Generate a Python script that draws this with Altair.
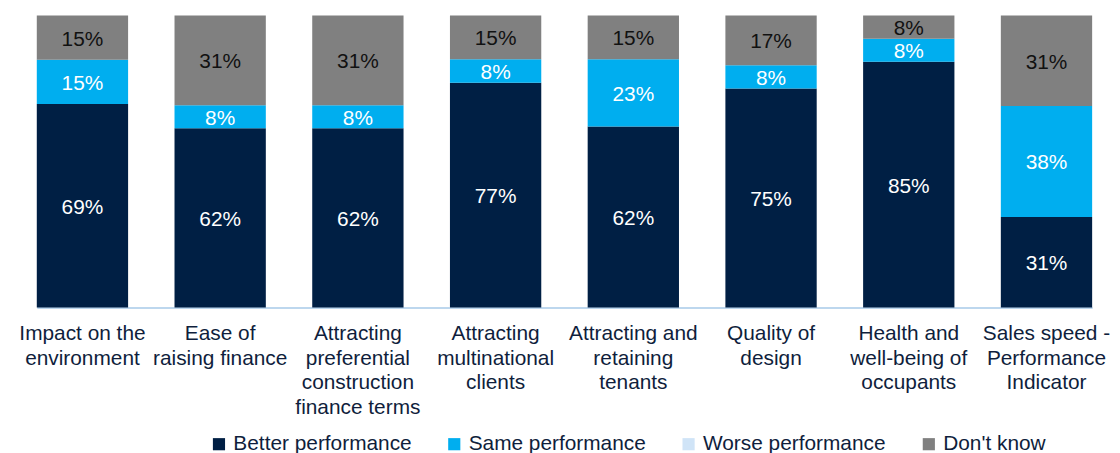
import altair as alt
import pandas as pd

categories = [
    "Impact on the|environment",
    "Ease of|raising finance",
    "Attracting|preferential|construction|finance terms",
    "Attracting|multinational|clients",
    "Attracting and|retaining|tenants",
    "Quality of|design",
    "Health and|well-being of|occupants",
    "Sales speed -|Performance|Indicator",
]
series = ["Better performance", "Same performance", "Worse performance", "Don't know"]
better = [69, 62, 62, 77, 62, 75, 85, 31]
same = [15, 8, 8, 8, 23, 8, 8, 38]
worse = [0, 0, 0, 0, 0, 0, 0, 0]
dontknow = [15, 31, 31, 15, 15, 17, 8, 31]
colors = ["#001F44", "#00AEEF", "#D0E4F7", "#808080"]

FONT = "Liberation Sans"
TEXT_COLOR = "#0F1E3C"

rows = []
for s_idx, (name, vals) in enumerate(zip(series, [better, same, worse, dontknow])):
    for c, v in zip(categories, vals):
        rows.append({"cat": c, "series": name, "value": v, "order": s_idx})
df = pd.DataFrame(rows)

base = (
    alt.Chart(df)
    .transform_stack(
        stack="value",
        groupby=["cat"],
        sort=[alt.SortField("order", order="ascending")],
        offset="normalize",
        as_=["v0", "v1"],
    )
    .transform_calculate(mid="(datum.v0 + datum.v1) / 2", lbl="datum.value + '%'")
)

xscale = alt.Scale(paddingInner=0.337, paddingOuter=0, range=[23, 1086], round=False)
xaxis = alt.Axis(
    title=None,
    labelExpr="split(datum.label, '|')",
    labelAngle=0,
    labelFont=FONT,
    labelFontSize=21,
    labelColor=TEXT_COLOR,
    labelLineHeight=25,
    labelPadding=15,
    labelLimit=400,
    labelOverlap=False,
    labelBound=False,
    ticks=False,
    tickSize=0,
    domainColor="#BDD7EE",
    domainWidth=2,
    grid=False,
)

bars = base.mark_bar().encode(
    x=alt.X("cat:N", sort=categories, scale=xscale, axis=xaxis),
    y=alt.Y("v0:Q", scale=alt.Scale(domain=[0, 1]), axis=None),
    y2="v1:Q",
    color=alt.Color(
        "series:N",
        sort=series,
        scale=alt.Scale(domain=series, range=colors),
        legend=alt.Legend(
            title=None,
            orient="none",
            legendX=196,
            legendY=421,
            direction="horizontal",
            symbolType="square",
            symbolSize=150,
            symbolStrokeWidth=0,
            labelFont=FONT,
            labelFontSize=21,
            labelColor=TEXT_COLOR,
            labelOffset=4,
            labelLimit=400,
            columnPadding=32,
            padding=0,
        ),
    ),
)

labels = base.transform_filter("datum.value > 0").mark_text(
    font=FONT, fontSize=21, baseline="middle", align="center", dy=2
).encode(
    x=alt.X("cat:N", sort=categories, scale=xscale, axis=xaxis),
    y=alt.Y("mid:Q", scale=alt.Scale(domain=[0, 1]), axis=None),
    text="lbl:N",
    color=alt.condition(
        "datum.series == \"Don't know\"", alt.value("#111111"), alt.value("#FFFFFF")
    ),
)

chart = (
    alt.layer(bars, labels)
    .properties(
        width=1096,
        height=294,
        autosize=alt.AutoSizeParams(type="none"),
        padding={"left": 6, "top": 6, "right": 10, "bottom": 145},
    )
    .configure_view(stroke=None)
)

chart.save("out.html", embed_options={"renderer": "svg", "actions": False})
